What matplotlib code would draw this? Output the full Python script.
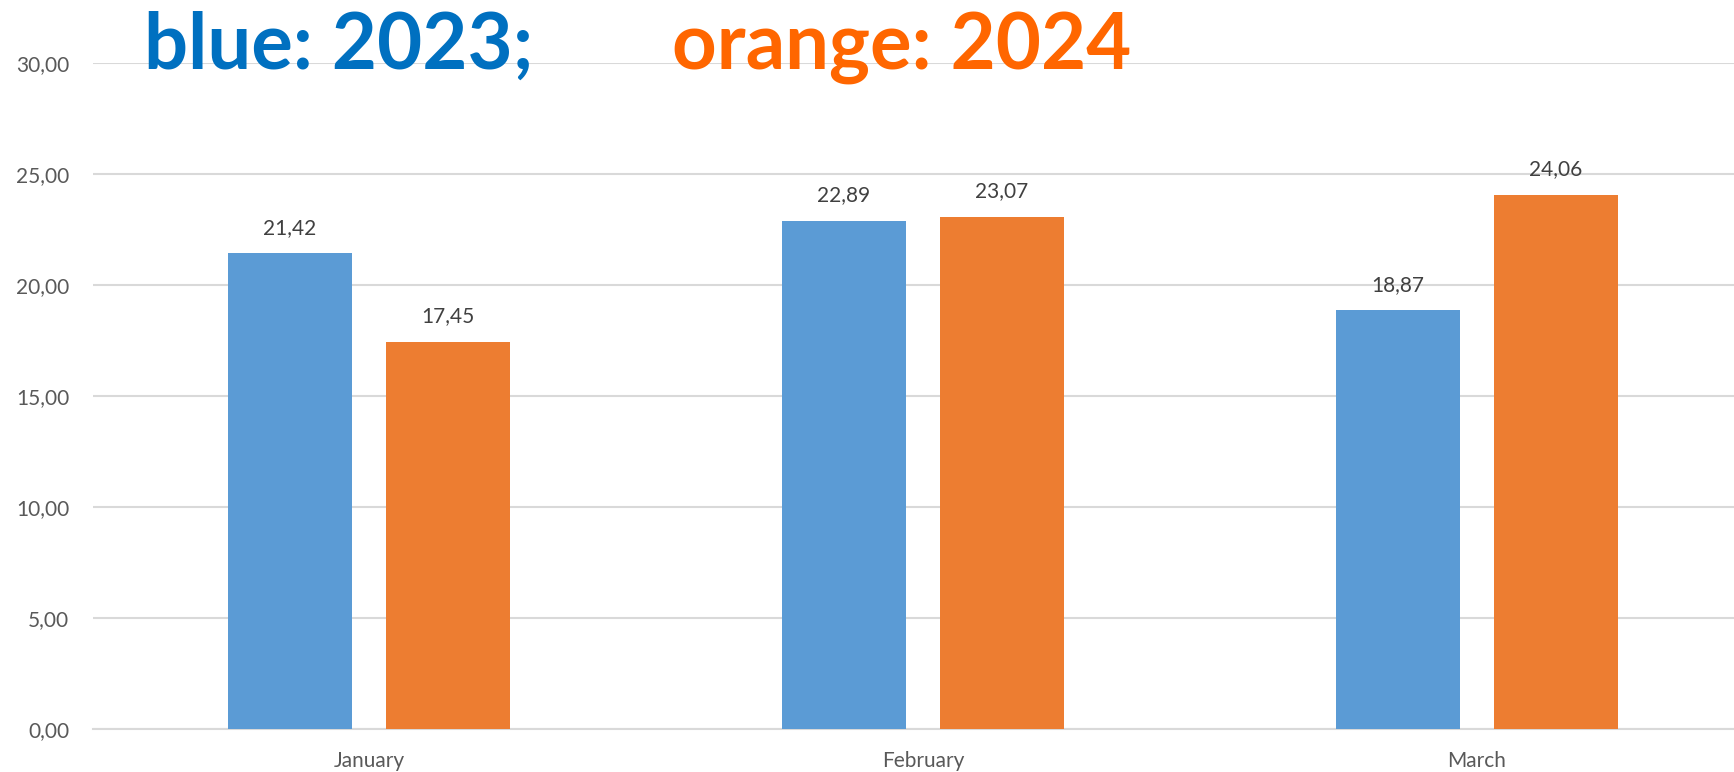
import matplotlib.pyplot as plt
import numpy as np

# data
months = ["January", "February", "March"]
vals_2023 = [21.42, 22.89, 18.87]
vals_2024 = [17.45, 23.07, 24.06]
yticks = [0, 5, 10, 15, 20, 25, 30]

blue = "#5B9BD5"
orange = "#ED7D31"
grey = "#595959"

plt.rcParams['font.family'] = ['Lato', 'DejaVu Sans']

fig = plt.figure(figsize=(17.34, 7.72), dpi=100)
ax = fig.add_axes([93 / 1734, 43 / 772, 1 - 93 / 1734, 666 / 772])

x = np.arange(len(months))
w = 0.224
off = 0.1426
b1 = ax.bar(x - off, vals_2023, w, color=blue, zorder=3)
b2 = ax.bar(x + off, vals_2024, w, color=orange, zorder=3)

# value labels with decimal comma
for bars in (b1, b2):
    for r in bars:
        h = r.get_height()
        ax.annotate(f"{h:.2f}".replace(".", ","), (r.get_x() + r.get_width() / 2, h),
                    xytext=(0, 11), textcoords="offset points", ha="center", va="bottom",
                    fontsize=15, color="#404040")

ax.set_ylim(0, 30)
ax.set_xlim(-0.498, 2.464)
ax.set_yticks(yticks)
ax.set_yticklabels([f"{t:.2f}".replace(".", ",") for t in yticks])
ax.set_xticks(x)
ax.set_xticklabels(months)
ax.tick_params(axis="both", length=0, labelsize=15, labelcolor=grey)
ax.tick_params(axis="y", pad=17)
ax.tick_params(axis="x", pad=16)
ax.grid(axis="y", color="#D9D9D9", linewidth=1.5, zorder=0)
for s in ax.spines.values():
    s.set_visible(False)
ax.spines["bottom"].set_visible(True)
ax.spines["bottom"].set_color("#D9D9D9")
ax.spines["bottom"].set_linewidth(1.5)

# big coloured title standing in for a legend
fig.text(144 / 1734, 1 - 69 / 772, "blue: 2023;", color="#0070C0", fontsize=56,
         fontweight="bold", va="baseline", ha="left")
fig.text(672 / 1734, 1 - 69 / 772, "orange: 2024", color="#FF6600", fontsize=56,
         fontweight="bold", va="baseline", ha="left")

fig.savefig("out.png", dpi=100)
